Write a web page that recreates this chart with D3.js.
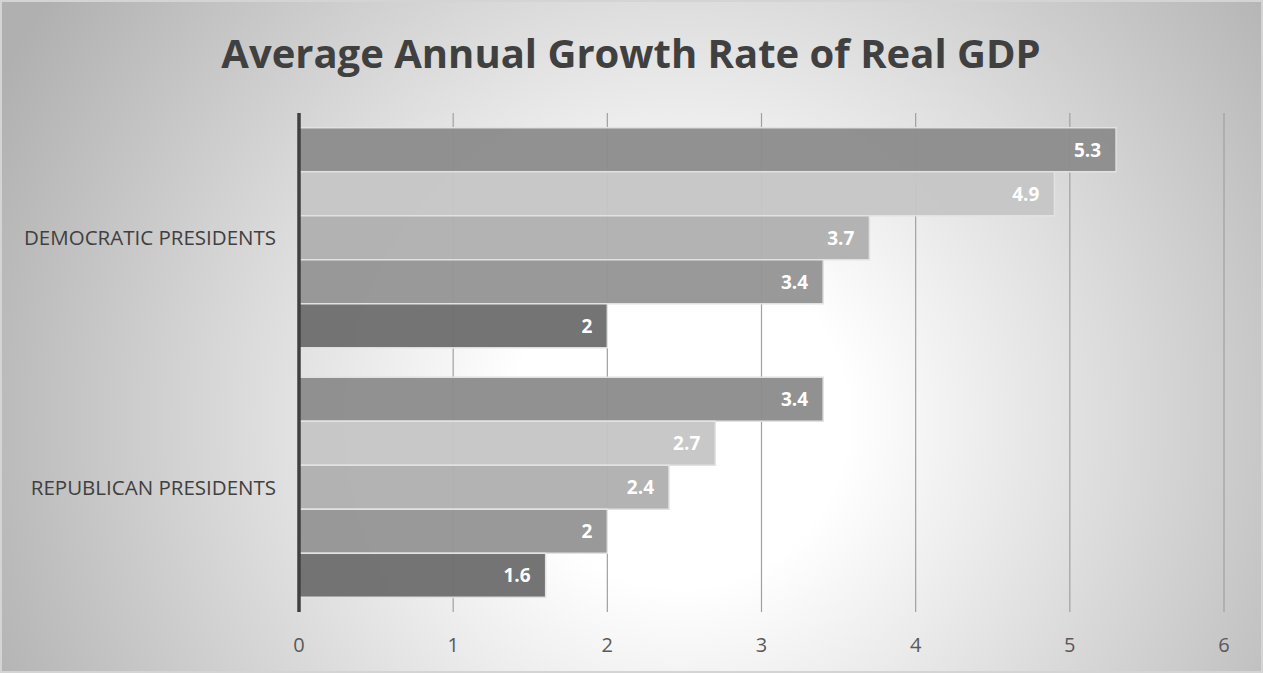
<!DOCTYPE html>
<html><head><meta charset="utf-8">
<script src="https://cdn.jsdelivr.net/npm/d3@7"></script>
<style>html,body{margin:0;padding:0;background:#fff;}svg{display:block;}</style>
</head><body>
<script>
const categories = ["DEMOCRATIC PRESIDENTS", "REPUBLICAN PRESIDENTS"];
const seriesNames = ["S1", "S2", "S3", "S4", "S5"]; // top to bottom within group
const democraticValues = [5.3, 4.9, 3.7, 3.4, 2];
const republicanValues = [3.4, 2.7, 2.4, 2, 1.6];
const seriesColors = ["#8c8c8c", "#c6c6c6", "#b0b0b0", "#959595", "#6e6e6e"];
const xTicks = [0, 1, 2, 3, 4, 5, 6];
const title = "Average Annual Growth Rate of Real GDP";

const W = 1263, H = 673;
const svg = d3.select("body").append("svg").attr("width", W).attr("height", H);
const defs = svg.append("defs");
const rg = defs.append("radialGradient").attr("id", "bg").attr("gradientUnits", "userSpaceOnUse")
  .attr("cx", 680).attr("cy", 420).attr("r", 760);
rg.append("stop").attr("offset", 0).attr("stop-color", "#ffffff");
rg.append("stop").attr("offset", 0.22).attr("stop-color", "#ffffff");
rg.append("stop").attr("offset", 1).attr("stop-color", "#b0b0b0");

svg.append("rect").attr("x", 1).attr("y", 1).attr("width", W - 2).attr("height", H - 2)
  .attr("fill", "url(#bg)").attr("stroke", "#d4d4d4").attr("stroke-width", 2);

const m = {left: 299, right: 1224, top: 113, bottom: 612};
const x = d3.scaleLinear().domain([0, 6]).range([m.left, m.right]);
const y0 = d3.scaleBand().domain(categories).range([m.top, m.bottom]).paddingInner(0.118).paddingOuter(0.059);
const y1 = d3.scaleBand().domain(seriesNames).range([0, y0.bandwidth()]);

const data = [
  {cat: categories[0], values: democraticValues},
  {cat: categories[1], values: republicanValues}
];

// gridlines
svg.append("g").selectAll("line").data(xTicks.slice(1)).join("line")
  .attr("x1", d => x(d)).attr("x2", d => x(d))
  .attr("y1", m.top).attr("y2", m.bottom)
  .attr("stroke", "#a0a0a0").attr("stroke-width", 1.2);

// bars
const g = svg.append("g").selectAll("g").data(data).join("g")
  .attr("transform", d => `translate(0,${y0(d.cat)})`);
g.selectAll("rect").data(d => d.values.map((v, i) => ({v, i}))).join("rect")
  .attr("x", x(0)).attr("y", d => y1(seriesNames[d.i]))
  .attr("width", d => x(d.v) - x(0)).attr("height", y1.bandwidth())
  .attr("fill", d => seriesColors[d.i]).attr("fill-opacity", 0.96)
  .attr("stroke", "#e2e2e2").attr("stroke-width", 1.5);
g.selectAll("text").data(d => d.values.map((v, i) => ({v, i}))).join("text")
  .attr("x", d => x(d.v) - 15).attr("y", d => y1(seriesNames[d.i]) + y1.bandwidth() / 2)
  .attr("dy", "0.36em").attr("text-anchor", "end")
  .attr("font-family", "Open Sans, sans-serif").attr("font-weight", "bold").attr("font-size", 19)
  .attr("fill", "#ffffff").text(d => d.v);

// y axis line
svg.append("line").attr("x1", x(0)).attr("x2", x(0)).attr("y1", m.top).attr("y2", m.bottom)
  .attr("stroke", "#404040").attr("stroke-width", 3.5);

// category labels
svg.append("g").selectAll("text").data(categories).join("text")
  .attr("x", 276).attr("y", d => y0(d) + y0.bandwidth() / 2)
  .attr("dy", "0.36em").attr("text-anchor", "end")
  .attr("font-family", "Open Sans, sans-serif").attr("font-size", 20.5)
  .attr("fill", "#404040").text(d => d);

// x tick labels
svg.append("g").selectAll("text").data(xTicks).join("text")
  .attr("x", d => x(d)).attr("y", 645).attr("dy", "0.36em").attr("text-anchor", "middle")
  .attr("font-family", "Open Sans, sans-serif").attr("font-size", 20)
  .attr("fill", "#595959").text(d => d);

// title
svg.append("text").attr("x", 631).attr("y", 68).attr("text-anchor", "middle")
  .attr("font-family", "Open Sans, sans-serif").attr("font-weight", "bold").attr("font-size", 40)
  .attr("fill", "#404040").text(title);
</script>
</body></html>
